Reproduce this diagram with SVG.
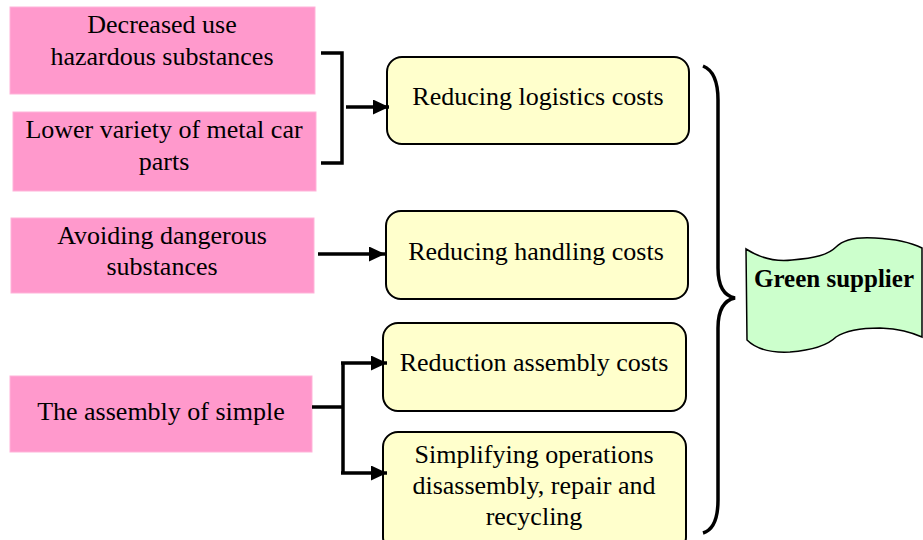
<svg xmlns="http://www.w3.org/2000/svg" width="923" height="540" viewBox="0 0 923 540">
<defs>
<style>
.p{fill:#FF99CC;stroke:#FFB3D9;stroke-width:1}
.y{fill:#FFFFCC;stroke:#000;stroke-width:2}
.t{font-family:"Liberation Serif",serif;font-size:26px;fill:#000;text-anchor:middle}
.c{fill:none;stroke:#000;stroke-width:3.5}
</style>
<marker id="a" viewBox="0 0 12 12" refX="12" refY="6" markerWidth="16" markerHeight="15" markerUnits="userSpaceOnUse" orient="auto" preserveAspectRatio="none">
<path d="M0,0 L12,6 L0,12 Z" fill="#000"/>
</marker>
</defs>
<g id="n1"><rect class="p" x="10" y="7" width="305" height="87"/><text class="t" x="162" y="33">Decreased use</text><text class="t" x="162" y="65">hazardous substances</text></g>
<g id="n2"><rect class="p" x="13" y="112" width="303" height="79"/><text class="t" x="164" y="138">Lower variety of metal car</text><text class="t" x="164" y="170">parts</text></g>
<g id="n3"><rect class="p" x="11" y="218" width="303" height="75"/><text class="t" x="162" y="244">Avoiding dangerous</text><text class="t" x="162" y="275">substances</text></g>
<g id="n4"><rect class="p" x="10" y="376" width="302" height="76"/><text class="t" x="161" y="420">The assembly of simple</text></g>
<g id="r1"><rect class="y" x="387" y="57" width="302" height="87" rx="15"/><text class="t" x="538" y="105">Reducing logistics costs</text></g>
<g id="r2"><rect class="y" x="386" y="211" width="302" height="88" rx="15"/><text class="t" x="536" y="260">Reducing handling costs</text></g>
<g id="r3"><rect class="y" x="383" y="323" width="303" height="88" rx="15"/><text class="t" x="534" y="371">Reduction assembly costs</text></g>
<g id="r4"><rect class="y" x="383" y="432" width="303" height="120" rx="15"/><text class="t" x="534" y="463">Simplifying operations</text><text class="t" x="534" y="494">disassembly, repair and</text><text class="t" x="534" y="525">recycling</text></g>
<g id="green"><path d="M746,249 C760,258 775,262 792,260 C815,258 828,255 836,247 C845,238 860,237 875,238 C895,239 910,242 922,248 L922,337 C910,332 900,329 880,328 C860,328 845,331 836,337 C828,345 815,350 790,352 C770,353 755,348 747,340 Z" fill="#CCFFCC" stroke="#000" stroke-width="1.5"/><text x="834" y="287" font-family="Liberation Serif,serif" font-size="25" font-weight="bold" text-anchor="middle">Green supplier</text></g>
<g id="connectors">
<path class="c" d="M321,53 H342 V163 H321"/>
<path class="c" d="M346,107 H389" marker-end="url(#a)"/>
<path class="c" d="M318,254 H385" marker-end="url(#a)"/>
<path class="c" d="M312,407 H343"/>
<path class="c" d="M343,362 V473"/>
<path class="c" d="M341,363 H387" marker-end="url(#a)"/>
<path class="c" d="M341,473 H387" marker-end="url(#a)"/>
<path class="c" d="M703,66 C713,70 718,80 718,100 L718,268 C718,288 725,296 735,298 C725,300 718,308 718,328 L718,500 C718,520 713,530 703,533"/>
</g>
</svg>
